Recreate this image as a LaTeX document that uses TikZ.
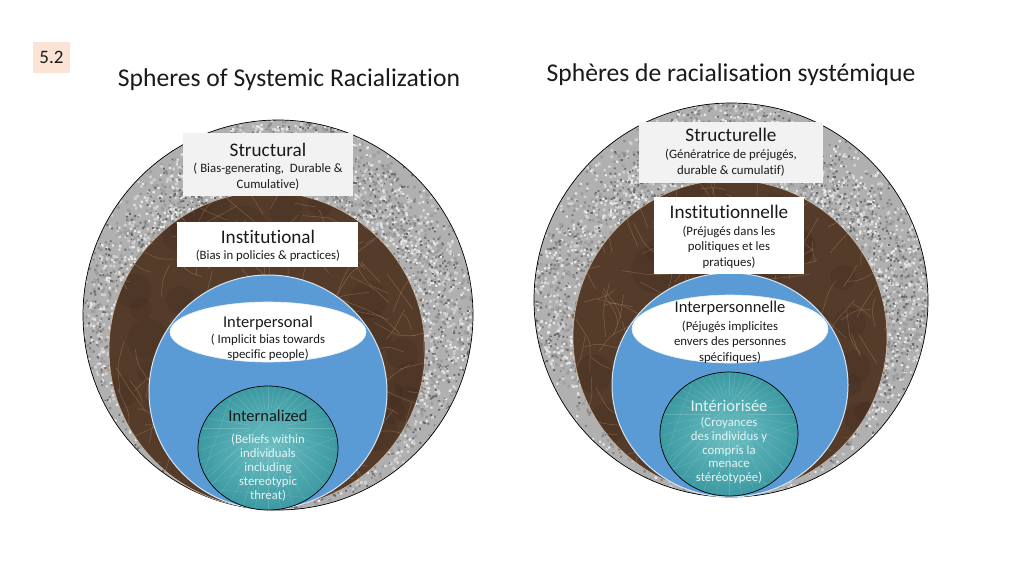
\documentclass[tikz,border=0pt]{standalone}
\usepackage{fontspec}
\setmainfont[Ligatures=NoCommon]{Carlito}
\usetikzlibrary{shapes.geometric}
\definecolor{txt}{HTML}{1A1A1A}
\definecolor{badge}{HTML}{FBE3D6}
\definecolor{boxgray}{HTML}{F2F2F2}
\definecolor{granbase}{HTML}{B0B0B0}
\definecolor{gA}{HTML}{686868}
\definecolor{gB}{HTML}{8A8A8A}
\definecolor{gC}{HTML}{D0D0D0}
\definecolor{gD}{HTML}{E8E8E8}
\definecolor{gE}{HTML}{9E9E9E}
\definecolor{brownbase}{HTML}{553C2A}
\definecolor{brownvein}{HTML}{A98563}
\definecolor{browndark}{HTML}{3A291D}
\definecolor{sphereblue}{HTML}{5B9BD5}
\definecolor{tealin}{HTML}{6DBFC2}
\definecolor{tealout}{HTML}{3C99A2}
\definecolor{lighttxt}{HTML}{E2F4F4}
\newcommand\mySpecks[4]{% radius, color, count, size
  \fill[#2] \foreach \k in {1,...,#3}{ ({rnd*360}:{#1*(0.55+0.47*rnd)}) rectangle +(#4,#4) };
}
\newcommand\myGranite[3]{%
  \begin{scope}
    \clip (#1,#2) circle[radius=#3pt];
    \fill[granbase] (#1,#2) circle[radius=#3pt];
    \begin{scope}[shift={(#1,#2)}]
      \mySpecks{#3}{gE}{1300}{2.8}
      \mySpecks{#3}{gC}{1500}{2.6}
      \mySpecks{#3}{gB}{1000}{2.2}
      \mySpecks{#3}{gD}{1200}{2.2}
      \mySpecks{#3}{gA}{900}{1.9}
      \mySpecks{#3}{gA}{400}{1.2}
    \end{scope}
  \end{scope}
  \draw[black, line width=0.7pt] (#1,#2) circle[radius=#3pt];
}
\newcommand\myBrown[3]{%
  \begin{scope}
    \clip (#1,#2) circle[radius=#3pt];
    \fill[brownbase] (#1,#2) circle[radius=#3pt];
    \foreach \k in {1,...,40}{%
      \pgfmathsetmacro\ang{rnd*360}%
      \pgfmathsetmacro\rad{#3*sqrt(rnd)}%
      \fill[browndark, opacity=0.22] ({#1+\rad*cos(\ang)},{#2+\rad*sin(\ang)}) circle[radius=10+16*rnd];
    }
    \foreach \k in {1,...,170}{%
      \pgfmathsetmacro\ang{rnd*360}%
      \pgfmathsetmacro\rad{#3*sqrt(rnd)}%
      \pgfmathsetmacro\da{rnd*360}%
      \pgfmathsetmacro\db{\da+rnd*70-35}%
      \pgfmathsetmacro\la{8+22*rnd}%
      \pgfmathsetmacro\lb{8+22*rnd}%
      \draw[brownvein, opacity=0.5, line width=0.5pt, rounded corners=6pt]
        ({#1+\rad*cos(\ang)},{#2+\rad*sin(\ang)}) -- ++(\da:\la) -- ++(\db:\lb);
    }
  \end{scope}
  \draw[brownvein!60!white, line width=0.6pt] (#1,#2) circle[radius=#3pt];
}
\newcommand\myTeal[4]{%
  \shade[inner color=tealin, outer color=tealout] (#1,#2) ellipse[x radius=#3pt, y radius=#4pt];
  \begin{scope}
    \clip (#1,#2) ellipse[x radius=#3pt, y radius=#4pt];
    \foreach \a in {0,9,...,351}{%
      \draw[white, opacity=0.16, line width=0.4pt] ({#1+18*cos(\a)},{#2-20+18*sin(\a)}) -- ++(\a:110);
    }
    \foreach \a in {20,45,...,160}{%
      \draw[white, opacity=0.16, line width=0.4pt] (#1-70,#2+40) -- ++(\a-90:150);
    }
  \end{scope}
  \draw[black, line width=0.7pt] (#1,#2) ellipse[x radius=#3pt, y radius=#4pt];
}
\begin{document}
\begin{tikzpicture}[x=1pt,y=-1pt,
  ttl/.style={font=\fontsize{25.6}{30}\selectfont, text=txt, inner sep=0pt},
  head/.style={font=\fontsize{19.2}{23}\selectfont, text=txt, inner sep=0pt, align=center},
  headsm/.style={font=\fontsize{16.5}{20}\selectfont, text=txt, inner sep=0pt, align=center},
  bodytxt/.style={font=\fontsize{12.8}{15.6}\selectfont, text=txt, inner sep=0pt, align=center},
  inttxt/.style={font=\fontsize{12.8}{14}\selectfont, text=lighttxt, inner sep=0pt, align=center},
  panel/.style={inner sep=0pt, outer sep=0pt}]
\useasboundingbox (0,0) rectangle (1024,576);
\fill[white] (0,0) rectangle (1024,576);

% badge
\node[panel, fill=badge, minimum width=37pt, minimum height=31pt] (badgebox) at (51.5,57.5) {};
\node[font=\fontsize{19}{22}\selectfont, text=txt, inner sep=0pt] (badgetxt) at (badgebox.center) {5.2};

% titles
\node[ttl] (titleL) at (289,80) {Spheres of Systemic Racialization};
\node[ttl] (titleR) at (731,75) {Sphères de racialisation systémique};

% ---------------- left spheres
\myGranite{278}{315}{195}
\myBrown{267}{350}{158}
\fill[sphereblue] (268,392) ellipse[x radius=119pt, y radius=117pt];
\draw[white!75!sphereblue, line width=1pt] (268,392) ellipse[x radius=119pt, y radius=117pt];
\node[panel, ellipse, fill=white, draw=white!85!sphereblue, line width=0.6pt, minimum width=196pt, minimum height=60pt] (interL) at (268,332) {};
\myTeal{268}{448}{70}{62}
\node[panel, fill=boxgray, minimum width=170pt, minimum height=63pt] (structL) at (268,164.5) {};
\node[panel, fill=white, minimum width=181pt, minimum height=45pt] (instL) at (267.5,244.5) {};

\node[head] (structLh) at (268,150) {Structural};
\node[bodytxt] (structLb) at (268,176.5) {( Bias-generating,\ \ Durable \&\\Cumulative)};
\node[head] (instLh) at (268,237) {Institutional};
\node[bodytxt] (instLb) at (268,256) {(Bias in policies \& practices)};
\node[headsm] (interLh) at (268,323) {Interpersonal};
\node[bodytxt] (interLb) at (268,347.5) {( Implicit bias towards\\specific people)};
\node[headsm] (intLh) at (268,416) {Internalized};
\node[inttxt] (intLb) at (268,468) {(Beliefs within\\individuals\\including\\stereotypic\\threat)};

% ---------------- right spheres
\myGranite{731}{300}{197}
\myBrown{730}{337}{157}
\fill[sphereblue] (730,385) ellipse[x radius=118pt, y radius=112pt];
\draw[white!75!sphereblue, line width=1pt] (730,385) ellipse[x radius=118pt, y radius=112pt];
\node[panel, ellipse, fill=white, draw=white!85!sphereblue, line width=0.6pt, minimum width=196pt, minimum height=68pt] (interR) at (730,329) {};
\myTeal{729}{434}{69}{62}
\node[panel, fill=boxgray, minimum width=184pt, minimum height=61pt] (structR) at (731,152.5) {};
\node[panel, fill=white, minimum width=150pt, minimum height=77pt] (instR) at (729,235.5) {};

\node[head] (structRh) at (731,135) {Structurelle};
\node[bodytxt] (structRb) at (731,163) {(Génératrice de préjugés,\\durable \& cumulatif)};
\node[head] (instRh) at (729,212) {Institutionnelle};
\node[bodytxt] (instRb) at (729,247) {(Préjugés dans les\\politiques et les\\pratiques)};
\node[headsm] (interRh) at (730,308) {Interpersonnelle};
\node[bodytxt] (interRb) at (730,342) {(Péjugés implicites\\envers des personnes\\spécifiques)};
\node[headsm, text=lighttxt] (intRh) at (729,406) {Intériorisée};
\node[inttxt, font=\fontsize{12.8}{13.8}\selectfont] (intRb) at (729,450.5) {(Croyances\\des individus y\\compris la\\menace\\stéréotypée)};
\end{tikzpicture}
\end{document}
